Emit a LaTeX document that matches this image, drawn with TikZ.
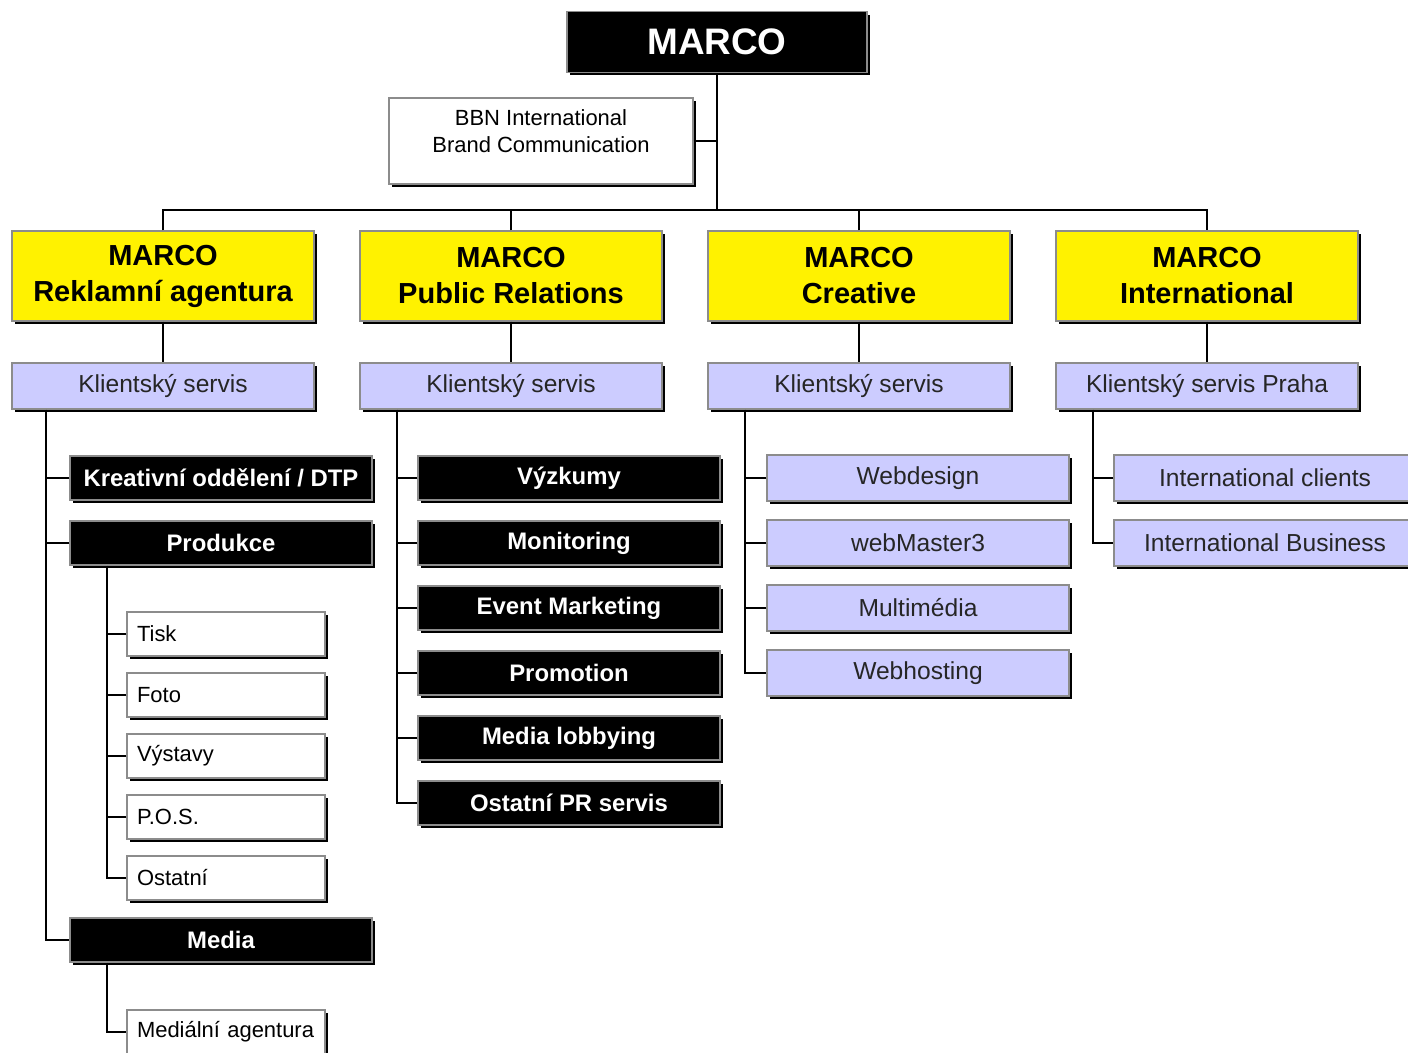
\documentclass[tikz,border=0pt]{standalone}
\usepackage{fontspec}
\setmainfont{Liberation Sans}
\usetikzlibrary{shadows}
\definecolor{lila}{RGB}{204,204,255}
\tikzset{
  box/.style={draw=black!45, line width=0.7pt, minimum width=6.04cm, minimum height=0.88cm, inner sep=1pt,
    drop shadow={opacity=1, fill=black, shadow xshift=0.06cm, shadow yshift=-0.06cm}},
  blackbox/.style={box, fill=black, text=white, font=\fontsize{13.6}{16}\selectfont\bfseries},
  yellowbox/.style={box, fill=yellow, minimum height=1.8cm, align=center, font=\fontsize{16.5}{20.5}\selectfont\bfseries},
  lilabox/.style={box, fill=lila, text=black!85, minimum height=0.92cm, font=\fontsize{14}{16}\selectfont},
  smallbox/.style={box, fill=white, minimum width=3.96cm, text width=3.56cm, align=left, inner xsep=0.2cm, font=\fontsize{12.5}{15}\selectfont},
  link/.style={line width=1.1pt},
}
\begin{document}
\begin{tikzpicture}[x=0.02cm,y=-0.02cm]
  \clip (0,0) rectangle (1408,1052);
  \fill[white] (0,0) rectangle (1408,1052);

  \node[blackbox, minimum width=6cm, minimum height=1.22cm, font=\fontsize{21}{24}\selectfont\bfseries] (marco) at (717,42) {MARCO};
  \node[box, fill=white, minimum width=6.08cm, minimum height=1.72cm,
    label={[anchor=north, inner sep=0pt, yshift=-0.24cm, align=center, font=\fontsize{12.5}{15.4}\selectfont]north:{BBN International\\Brand Communication}}] (bbn) at (541,141) {};
  \coordinate (bus) at (717,210);

  % divisions
  \node[yellowbox] (ra) at (163,276) {MARCO\\Reklamní agentura};
  \node[yellowbox] (pr) at (511,276) {MARCO\\Public Relations};
  \node[yellowbox] (cr) at (859,276) {MARCO\\Creative};
  \node[yellowbox] (in) at (1207,276) {MARCO\\International};
  \node[lilabox] (ks1) at (163,386) {Klientský servis};
  \node[lilabox] (ks2) at (511,386) {Klientský servis};
  \node[lilabox] (ks3) at (859,386) {Klientský servis};
  \node[lilabox] (ks4) at (1207,386) {Klientský servis Praha};

  \draw[link] (marco) -- (bus);
  \draw[link] (bbn.east) -- (bbn.east -| bus);
  \draw[link] (ra.north) |- (bus) -| (in.north);
  \draw[link] (pr.north) -- (pr.north |- bus);
  \draw[link] (cr.north) -- (cr.north |- bus);
  \foreach \a/\b in {ra/ks1, pr/ks2, cr/ks3, in/ks4}
    \draw[link] (\a) -- (\b);

  % reklamni agentura
  \node[blackbox] (kr) at (221,478) {Kreativní oddělení / DTP};
  \node[blackbox] (prod) at (221,543) {Produkce};
  \foreach \t [count=\i] in {Tisk, Foto, Výstavy, P.O.S., Ostatní}
    \node[smallbox] (sm\i) at (226,{634+61*(\i-1)}) {\t};
  \node[blackbox] (media) at (221,940) {Media};
  \node[smallbox] (ma) at (226,1032) {Mediální agentura};
  \coordinate (s1) at ([xshift=0.7cm]ks1.south west);
  \coordinate (s1b) at ([xshift=0.76cm]prod.south west);
  \coordinate (s1c) at ([xshift=0.76cm]media.south west);
  \draw[link] (s1) |- (media.west);
  \draw[link] (kr.west) -- (kr.west -| s1);
  \draw[link] (prod.west) -- (prod.west -| s1);
  \draw[link] (s1b) |- (sm5.west);
  \foreach \i in {1,...,4}
    \draw[link] (sm\i.west) -- (sm\i.west -| s1b);
  \draw[link] (s1c) |- (ma.west);

  % public relations
  \foreach \t [count=\i] in {Výzkumy, Monitoring, Event Marketing, Promotion, Media lobbying, Ostatní PR servis}
    \node[blackbox] (p\i) at (569,{478+65*(\i-1)}) {\t};
  \coordinate (s2) at ([xshift=0.76cm]ks2.south west);
  \draw[link] (s2) |- (p6.west);
  \foreach \i in {1,...,5}
    \draw[link] (p\i.west) -- (p\i.west -| s2);

  % creative
  \foreach \t [count=\i] in {Webdesign, webMaster3, Multimédia, Webhosting}
    \node[lilabox] (c\i) at (918,{478+65*(\i-1)}) {\t};
  \coordinate (s3) at ([xshift=0.76cm]ks3.south west);
  \draw[link] (s3) |- (c4.west);
  \foreach \i in {1,...,3}
    \draw[link] (c\i.west) -- (c\i.west -| s3);

  % international
  \node[lilabox] (i1) at (1265,478) {International clients};
  \node[lilabox] (i2) at (1265,543) {International Business};
  \coordinate (s4) at ([xshift=0.76cm]ks4.south west);
  \draw[link] (s4) |- (i2.west);
  \draw[link] (i1.west) -- (i1.west -| s4);
\end{tikzpicture}
\end{document}
